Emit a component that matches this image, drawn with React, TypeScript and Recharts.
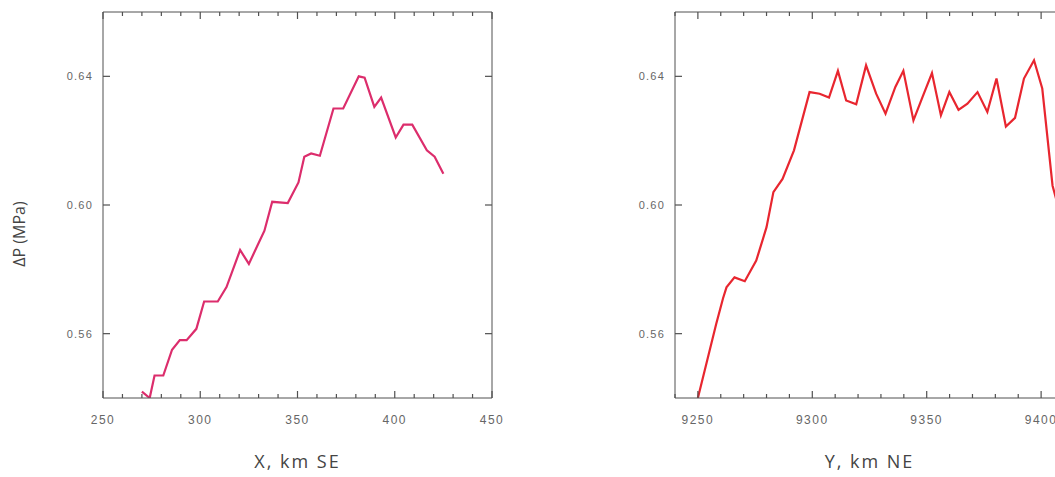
import { LineChart, Line, XAxis, YAxis } from 'recharts';

// profile along X (km SE)
const LEFT_X = [
  270, 274, 276.5, 281, 285.5, 289.5, 293, 298, 302, 309, 313.5, 320.5, 325, 333, 337, 345,
  350.5, 353.5, 357, 361.5, 368.5, 373.5, 381.5, 384.5, 389.5, 393, 400.5, 404.5, 409, 416.5,
  420.5, 425,
];
const LEFT_DP = [
  0.542, 0.540, 0.547, 0.547, 0.555, 0.558, 0.558, 0.5615, 0.570, 0.570, 0.5745, 0.586, 0.5817,
  0.592, 0.601, 0.6006, 0.607, 0.615, 0.616, 0.6153, 0.630, 0.630, 0.640, 0.6396, 0.6305, 0.6334,
  0.621, 0.625, 0.625, 0.617, 0.615, 0.6097,
];

// profile along Y (km NE)
const RIGHT_Y = [
  9250, 9254, 9258, 9261, 9262.5, 9266, 9270.5, 9275.5, 9280, 9283, 9287, 9292, 9298.8, 9303.2,
  9307.3, 9311.2, 9314.8, 9319.2, 9323.5, 9327.9, 9332, 9336.3, 9339.8, 9344.2, 9348.2, 9352.3,
  9356.2, 9359.9, 9363.9, 9367.8, 9372.2, 9376.5, 9380.5, 9384.6, 9388.6, 9392.5, 9396.9,
  9400.5, 9405, 9408,
];
const RIGHT_DP = [
  0.540, 0.5515, 0.563, 0.571, 0.5744, 0.5775, 0.5763, 0.5827, 0.5931, 0.604, 0.6081, 0.617,
  0.6351, 0.6346, 0.6334, 0.6417, 0.6325, 0.6313, 0.6434, 0.6346, 0.6284, 0.6367, 0.6417, 0.6263,
  0.6336, 0.641, 0.6279, 0.6351, 0.6296, 0.6315, 0.6351, 0.6289, 0.6393, 0.6244, 0.6271, 0.6393,
  0.645, 0.6362, 0.606, 0.598,
];

const LEFT_X_TICKS = [
  250, 260, 270, 280, 290, 300, 310, 320, 330, 340, 350, 360, 370, 380, 390, 400, 410, 420, 430,
  440, 450,
];
const LEFT_X_LABELS = [250, 300, 350, 400, 450];
const RIGHT_X_TICKS = [
  9240, 9250, 9260, 9270, 9280, 9290, 9300, 9310, 9320, 9330, 9340, 9350, 9360, 9370, 9380, 9390,
  9400, 9410,
];
const RIGHT_X_LABELS = [9250, 9300, 9350, 9400];
const DP_TICKS = [0.56, 0.6, 0.64];
const DP_LABELS = ['0.56', '0.60', '0.64'];

const AXIS = '#505050';
const TICK_TEXT = '#666';
const TITLE = '#444';

const leftData = LEFT_X.map((x, i) => ({ x, dp: LEFT_DP[i] }));
const rightData = RIGHT_Y.map((x, i) => ({ x, dp: RIGHT_DP[i] }));

const tickFont = { fontFamily: '"Liberation Sans", Arial, sans-serif', fill: TICK_TEXT };

function bottomTick(labels: number[]) {
  return (p: any) => {
    const major = labels.includes(p.payload.value);
    return (
      <g>
        <line x1={p.x} x2={p.x} y1={p.y} y2={p.y - (major ? 7 : 4)} stroke={AXIS} strokeWidth={1.2} />
        {major && (
          <text x={p.x} y={p.y + 26} textAnchor="middle" fontSize={12} letterSpacing={1.5} {...tickFont}>
            {p.payload.value}
          </text>
        )}
      </g>
    );
  };
}

function topTick(labels: number[]) {
  return (p: any) => {
    const major = labels.includes(p.payload.value);
    return (
      <line x1={p.x} x2={p.x} y1={p.y} y2={p.y + (major ? 7 : 4)} stroke={AXIS} strokeWidth={1.2} />
    );
  };
}

const leftTick = (p: any) => {
  const i = DP_TICKS.indexOf(p.payload.value);
  return (
    <g>
      <line x1={p.x} x2={p.x + 7} y1={p.y} y2={p.y} stroke={AXIS} strokeWidth={1.2} />
      <text x={p.x - 10} y={p.y + 4} textAnchor="end" fontSize={11} letterSpacing={1.2} {...tickFont}>
        {DP_LABELS[i]}
      </text>
    </g>
  );
};

const rightTick = (p: any) => (
  <line x1={p.x} x2={p.x - 7} y1={p.y} y2={p.y} stroke={AXIS} strokeWidth={1.2} />
);

function xTitle(text: string) {
  return (p: any) => {
    const vb = p.viewBox;
    return (
      <text
        x={vb.x + vb.width / 2}
        y={vb.y + 70}
        textAnchor="middle"
        fontSize={18}
        letterSpacing={2}
        fontFamily='"Open Sans", sans-serif'
        fill={TITLE}
      >
        {text}
      </text>
    );
  };
}

const yTitle = (p: any) => {
  const vb = p.viewBox;
  const cx = vb.x + 19;
  const cy = vb.y + vb.height / 2 + 29;
  return (
    <text
      x={cx}
      y={cy}
      transform={`rotate(-90 ${cx} ${cy})`}
      textAnchor="middle"
      dominantBaseline="central"
      fontSize={16}
      fontFamily='"Open Sans", sans-serif'
      fill={TITLE}
    >
      ΔP (MPa)
    </text>
  );
};

function Panel(props: {
  data: { x: number; dp: number }[];
  domain: [number, number];
  ticks: number[];
  labels: number[];
  color: string;
  title: string;
  yAxisWidth: number;
  width: number;
  marginRight: number;
  showYTitle: boolean;
}) {
  return (
    <LineChart
      width={props.width}
      height={477}
      data={props.data}
      margin={{ top: 11, right: props.marginRight, bottom: 0, left: 0 }}
    >
      <XAxis
        xAxisId="b"
        dataKey="x"
        type="number"
        domain={props.domain}
        allowDataOverflow
        ticks={props.ticks}
        interval={0}
        height={79}
        tickSize={0}
        tickMargin={0}
        tickLine={false}
        stroke={AXIS}
        tick={bottomTick(props.labels)}
        label={xTitle(props.title)}
      />
      <XAxis
        xAxisId="t"
        orientation="top"
        dataKey="x"
        type="number"
        domain={props.domain}
        allowDataOverflow
        ticks={props.ticks}
        interval={0}
        height={1}
        tickSize={0}
        tickMargin={0}
        tickLine={false}
        stroke={AXIS}
        tick={topTick(props.labels)}
      />
      <YAxis
        yAxisId="l"
        type="number"
        domain={[0.54, 0.66]}
        allowDataOverflow
        ticks={DP_TICKS}
        interval={0}
        width={props.yAxisWidth}
        tickSize={0}
        tickMargin={0}
        tickLine={false}
        stroke={AXIS}
        tick={leftTick}
        label={props.showYTitle ? yTitle : undefined}
      />
      <YAxis
        yAxisId="r"
        orientation="right"
        type="number"
        domain={[0.54, 0.66]}
        allowDataOverflow
        ticks={DP_TICKS}
        interval={0}
        width={1}
        tickSize={0}
        tickMargin={0}
        tickLine={false}
        stroke={AXIS}
        tick={rightTick}
      />
      <Line
        xAxisId="b"
        yAxisId="l"
        type="linear"
        dataKey="dp"
        stroke={props.color}
        strokeWidth={2.2}
        dot={false}
        isAnimationActive={false}
      />
    </LineChart>
  );
}

export default function App() {
  return (
    <div
      style={{
        position: 'absolute',
        left: 0,
        top: 0,
        width: 1055,
        height: 477,
        overflow: 'hidden',
        background: '#fff',
      }}
    >
      <div style={{ position: 'absolute', left: 0, top: 0 }}>
        <Panel
          data={leftData}
          domain={[250, 450]}
          ticks={LEFT_X_TICKS}
          labels={LEFT_X_LABELS}
          color="#dc2d6c"
          title="X, km SE"
          yAxisWidth={103}
          width={520}
          marginRight={27}
          showYTitle
        />
      </div>
      <div style={{ position: 'absolute', left: 560, top: 0 }}>
        <Panel
          data={rightData}
          domain={[9240, 9410]}
          ticks={RIGHT_X_TICKS}
          labels={RIGHT_X_LABELS}
          color="#e8262f"
          title="Y, km NE"
          yAxisWidth={115}
          width={505}
          marginRight={0}
          showYTitle={false}
        />
      </div>
    </div>
  );
}
